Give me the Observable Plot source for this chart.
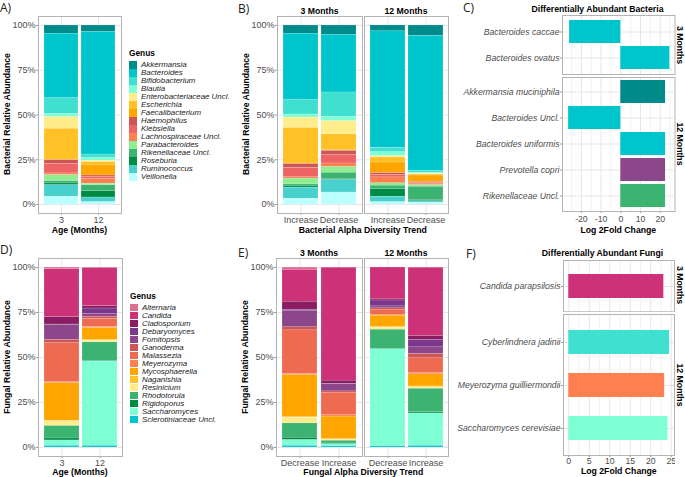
<!DOCTYPE html>
<html><head><meta charset="utf-8">
<script src="https://cdn.jsdelivr.net/npm/d3@7"></script>
<script src="https://cdn.jsdelivr.net/npm/@observablehq/plot@0.6"></script>
<style>
body{margin:0;background:#fff;}
#root{position:relative;width:685px;height:477px;overflow:hidden;background:#fff;}
#root svg{max-width:none;}
</style>
</head><body><div id="root"></div>
<script>
// ---------- data ----------
const bacGenera = ["Akkermansia","Bacteroides","Bifidobacterium","Blautia","Enterobacteriaceae Uncl.","Escherichia","Faecalibacterium","Haemophilus","Klebsiella","Lachnospiraceae Uncl.","Parabacteroides","Rikenellaceae Uncl.","Roseburia","Ruminococcus","Veillonella"];
const bacColors = ["#008B8B","#00C5CD","#40E0D0","#7FFFD4","#FFEC8B","#FFC125","#FFA500","#CD5555","#EE6363","#FF7F50","#90EE90","#3CB371","#008B45","#48D1CC","#BBFFFF"];
const ageCats = ["3","12"];
const bacAge3  = [4.6,36.2,8.9,1.7,6.5,17.3,0.3,2.2,5.2,1.0,3.3,1.3,1.0,6.5,4.3];
const bacAge12 = [3.7,68.4,2.0,1.5,0.7,1.9,5.6,0.9,0.9,2.8,0.9,3.3,3.5,2.6,1.3];
const bacTrendCats = ["Increase","Decrease"];
const bac3Increase  = [4.6,37.2,8.0,1.7,5.8,19.9,0.3,2.2,5.2,0.7,3.3,1.1,0.7,6.1,3.3];
const bac3Decrease  = [5.2,32.2,13.6,2.4,7.4,8.7,0.5,2.4,4.6,2.0,3.2,3.5,0.6,6.9,6.7];
const bac12Increase = [3.3,65.0,2.4,2.2,0.7,2.8,5.9,1.1,1.3,3.3,1.3,1.9,4.3,3.0,1.3];
const bac12Decrease = [5.9,75.3,1.1,0.7,0.3,0.6,3.7,0.4,0.4,0.9,0.9,7.4,0.7,0.7,1.1];

const funGenera = ["Alternaria","Candida","Cladosporium","Debaryomyces","Fomitopsis","Ganoderma","Malassezia","Meyerozyma","Mycosphaerella","Naganishia","Resinicium","Rhodotorula","Rigidoporus","Saccharomyces","Sclerotiniaceae Uncl."];
const funColors = ["#DB7093","#CD3278","#8B1C62","#7A378B","#8B4789","#CD5555","#EE6A50","#FF7F50","#FFA500","#FFC125","#FFEC8B","#3CB371","#008B45","#7FFFD4","#00C5CD"];
const funAge3  = [0.9,26.7,4.1,0.2,8.3,1.9,21.7,0.5,20.8,0.4,2.6,6.9,1.1,3.0,0.9];
const funAge12 = [0.3,21.3,1.3,3.2,1.5,1.1,4.5,0.6,6.5,0.6,0.9,10.2,0.4,47.1,0.9];
const funTrendCats = ["Decrease","Increase"];
const fun3Decrease  = [1.3,17.8,4.6,0.4,9.3,1.7,24.3,0.7,23.4,0.3,3.2,8.0,1.3,3.2,0.9];
const fun3Increase  = [0.1,62.9,1.7,0.2,4.1,0.7,12.6,0.7,12.6,0.2,0.7,1.5,0.4,1.1,0.7];
const fun12Decrease = [0.0,17.8,0.6,3.3,1.1,0.7,2.8,0.6,6.3,0.4,1.1,10.6,0.3,54.0,0.7];
const fun12Increase = [0.1,38.0,2.2,4.1,3.7,2.4,8.3,0.6,6.7,0.4,0.9,13.0,0.7,18.0,0.9];

const daBac3Names  = ["Bacteroides caccae","Bacteroides ovatus"];
const daBac3LFC    = [-26.0, 24.9];
const daBac3Genus  = ["Bacteroides","Bacteroides"];
const daBac12Names = ["Akkermansia muciniphila","Bacteroides Uncl.","Bacteroides uniformis","Prevotella copri","Rikenellaceae Uncl."];
const daBac12LFC   = [22.7, -26.5, 22.7, 22.7, 22.7];
const daBac12Genus = ["Akkermansia","Bacteroides","Bacteroides","Prevotella","Rikenellaceae Uncl."];
const daFun3Names  = ["Candida parapsilosis"];
const daFun3LFC    = [23.2];
const daFun3Genus  = ["Candida"];
const daFun12Names = ["Cyberlindnera jadinii","Meyerozyma guilliermondii","Saccharomyces cerevisiae"];
const daFun12LFC   = [24.6, 23.4, 24.2];
const daFun12Genus = ["Cyberlindnera","Meyerozyma","Saccharomyces"];
const extraGenera = ["Prevotella","Cyberlindnera"];
const extraColors = ["#8B4789","#40E0D0"];

// ---------- helpers ----------
const FONT = '"Liberation Sans", Arial, sans-serif';
const root = document.getElementById("root");
const palette = new Map([
  ...bacGenera.map((g,i)=>[g,bacColors[i]]),
  ...funGenera.map((g,i)=>[g,funColors[i]]),
  ...extraGenera.map((g,i)=>[g,extraColors[i]])
]);

function place(node, left, top, w) {
  const div = document.createElement("div");
  Object.assign(div.style, {position:"absolute", left:left+"px", top:top+"px", width:w+"px"});
  div.appendChild(node); root.appendChild(div);
}
function label(txt, x, y, o = {}) {
  const {size=8.7, weight="bold", style="normal", color="#000", rotate=0, anchor="middle", family=FONT} = o;
  const d = document.createElement("div");
  d.textContent = txt;
  Object.assign(d.style, {position:"absolute", left:x+"px", top:y+"px", fontFamily:family, fontSize:size+"px",
    fontWeight:weight, fontStyle:style, color, whiteSpace:"nowrap", lineHeight:"1"});
  const tx = anchor==="middle" ? "-50%" : anchor==="end" ? "-100%" : "0";
  d.style.transform = `translate(${tx},-50%)` + (rotate ? ` rotate(${rotate}deg)` : "");
  root.appendChild(d);
}

function stacked({cats, series, genera, colors, left, top, frameW, frameH, ml, showY, pad}) {
  const data = [];
  cats.forEach((c,i) => genera.forEach((g,j) => data.push({cat:c, genus:g, value:series[i][j]})));
  const mt = 1, mr = 1, mb = 16;
  const marks = [
    Plot.ruleY([0.125,0.375,0.625,0.875], {stroke:"#f3f3f3"}),
    Plot.ruleY([0,0.25,0.5,0.75,1], {stroke:"#e6e6e6"}),
    Plot.gridX({stroke:"#e6e6e6", strokeOpacity:1}),
    Plot.barY(data, {x:"cat", y:"value", fill:"genus", offset:"normalize", order:genera.slice().reverse(),
      stroke:"white", strokeWidth:0.3, strokeOpacity:0.5}),
    Plot.axisX({tickSize:2, tickPadding:pad, stroke:"#999", label:null})
  ];
  if (showY) marks.push(Plot.axisY({ticks:[0,0.25,0.5,0.75,1], tickFormat:d3.format(".0%"), tickSize:2, tickPadding:1, stroke:"#999", label:null}));
  marks.push(Plot.frame({stroke:"#b3b3b3"}));
  const W = ml + frameW + mr;
  const svg = Plot.plot({
    width:W, height:mt+frameH+mb, marginLeft:ml, marginRight:mr, marginTop:mt, marginBottom:mb,
    style:{fontFamily:FONT, fontSize:"9px", color:"#4d4d4d", background:"transparent"},
    x:{type:"band", domain:cats, paddingInner:0.09, paddingOuter:0.14, label:null},
    y:{domain:[-0.05,1.05], label:null, axis: showY ? undefined : null},
    color:{domain:genera, range:colors},
    marks
  });
  place(svg, left, top, W);
}

function daPanel({names, values, genus, left, top, frameW, frameH, ml, xdomain, xticks, xminor, showX, pi, po, pad}) {
  const data = names.map((n,i) => ({name:n, v:values[i], c:palette.get(genus[i])}));
  const mt = 1, mr = 1, mb = showX ? 14 : 1;
  const marks = [
    Plot.ruleX(xminor, {stroke:"#f3f3f3"}),
    Plot.ruleX(xticks, {stroke:"#e6e6e6"}),
    Plot.gridY({stroke:"#e6e6e6", strokeOpacity:1}),
    Plot.barX(data, {x:"v", y:"name", fill:"c"}),
    Plot.axisY({tickSize:2, tickPadding:1, fontStyle:"italic", stroke:"#999", label:null})
  ];
  if (showX) marks.push(Plot.axisX({ticks:xticks, tickFormat:d=>String(d), tickSize:2, tickPadding:pad, stroke:"#999", label:null}));
  marks.push(Plot.frame({stroke:"#b3b3b3"}));
  const W = ml + frameW + mr;
  const svg = Plot.plot({
    width:W, height:mt+frameH+mb, marginLeft:ml, marginRight:mr, marginTop:mt, marginBottom:mb,
    style:{fontFamily:FONT, fontSize:"8.7px", color:"#4d4d4d", background:"transparent"},
    x:{domain:xdomain, label:null, axis: showX ? undefined : null},
    y:{type:"band", domain:names, paddingInner:pi, paddingOuter:po, label:null},
    color:{type:"identity"},
    marks
  });
  place(svg, left, top, W);
}

function legend(genera, colors, x, titleY, firstY) {
  label("Genus", x, titleY, {size:8.3, anchor:"start"});
  genera.forEach((g,i) => {
    const sw = document.createElement("div");
    Object.assign(sw.style, {position:"absolute", left:x+"px", top:(firstY+8*i-3.7)+"px", width:"7.5px", height:"7.4px", background:colors[i]});
    root.appendChild(sw);
    label(g, x+12, firstY+8*i, {size:7.9, weight:"normal", style:"italic", color:"#1a1a1a", anchor:"start"});
  });
}

// ---------- panel A ----------
stacked({cats:ageCats, series:[bacAge3, bacAge12], genera:bacGenera, colors:bacColors,
  left:0, top:14.5, frameW:83, frameH:197, ml:38, showY:true, pad:1.5});
legend(bacGenera, bacColors, 129, 53, 65);
// ---------- panel B ----------
stacked({cats:bacTrendCats, series:[bac3Increase, bac3Decrease], genera:bacGenera, colors:bacColors,
  left:237, top:14.5, frameW:85, frameH:197, ml:40, showY:true, pad:1.5});
stacked({cats:bacTrendCats, series:[bac12Increase, bac12Decrease], genera:bacGenera, colors:bacColors,
  left:363, top:14.5, frameW:84, frameH:197, ml:1, showY:false, pad:1.5});
// ---------- panel C ----------
daPanel({names:daBac3Names, values:daBac3LFC, genus:daBac3Genus, left:457, top:14, frameW:112.5, frameH:59, ml:105,
  xdomain:[-29.6,27.5], xticks:[-20,-10,0,10,20], xminor:[-25,-15,-5,5,15,25], showX:false, pi:0.1, po:0.17});
daPanel({names:daBac12Names, values:daBac12LFC, genus:daBac12Genus, left:457, top:76.3, frameW:112.5, frameH:134, ml:105,
  xdomain:[-29.6,27.5], xticks:[-20,-10,0,10,20], xminor:[-25,-15,-5,5,15,25], showX:true, pi:0.1, po:0.1, pad:2});
// ---------- panel D ----------
stacked({cats:ageCats, series:[funAge3, funAge12], genera:funGenera, colors:funColors,
  left:0, top:257, frameW:84, frameH:198, ml:38, showY:true, pad:1});
legend(funGenera, funColors, 130, 295.7, 307.7);
// ---------- panel E ----------
stacked({cats:funTrendCats, series:[fun3Decrease, fun3Increase], genera:funGenera, colors:funColors,
  left:236, top:257, frameW:86, frameH:198, ml:40, showY:true, pad:1});
stacked({cats:funTrendCats, series:[fun12Decrease, fun12Increase], genera:funGenera, colors:funColors,
  left:363, top:257, frameW:84, frameH:198, ml:1, showY:false, pad:1});
// ---------- panel F ----------
daPanel({names:daFun3Names, values:daFun3LFC, genus:daFun3Genus, left:451, top:258.7, frameW:111, frameH:51.3, ml:112,
  xdomain:[-1.29,25.8], xticks:[0,5,10,15,20,25], xminor:[2.5,7.5,12.5,17.5,22.5], showX:false, pi:0.45, po:0.31});
daPanel({names:daFun12Names, values:daFun12LFC, genus:daFun12Genus, left:451, top:313.3, frameW:111, frameH:141, ml:112,
  xdomain:[-1.29,25.8], xticks:[0,5,10,15,20,25], xminor:[2.5,7.5,12.5,17.5,22.5], showX:true, pi:0.45, po:0.33, pad:0.5});

// ---------- text ----------
const PL = {size:12, weight:"normal", anchor:"start", family:'"Open Sans","DejaVu Sans",sans-serif', color:"#222"};
label("A)", 0, 8, PL); label("B)", 238, 9, PL); label("C)", 463, 8, PL);
label("D)", 0, 250, PL); label("E)", 238, 253, PL); label("F)", 466, 254, PL);

label("Bacterial Relative Abundance", 6.7, 114, {rotate:-90});
label("Bacterial Relative Abundance", 245.5, 114, {rotate:-90});
label("Fungal Relative Abundance", 6.7, 357, {rotate:-90});
label("Fungal Relative Abundance", 245, 357, {rotate:-90});

label("Age (Months)", 79.5, 229.7);
label("Bacterial Alpha Diversity Trend", 362.7, 229.7);
label("Log 2Fold Change", 618.3, 229.7);
label("Age (Months)", 80, 472);
label("Fungal Alpha Diversity Trend", 363.3, 472);
label("Log 2Fold Change", 618.8, 471);

label("3 Months", 319.5, 11); label("12 Months", 406, 11);
label("3 Months", 319, 252.8); label("12 Months", 406, 252.8);
label("Differentially Abundant Bacteria", 597.5, 9);
label("Differentially Abundant Fungi", 602.5, 253);
label("3 Months", 680, 44.5, {rotate:90}); label("12 Months", 680, 144.3, {rotate:90});
label("3 Months", 680, 285.3, {rotate:90}); label("12 Months", 680, 384.8, {rotate:90});
</script>
</body></html>
